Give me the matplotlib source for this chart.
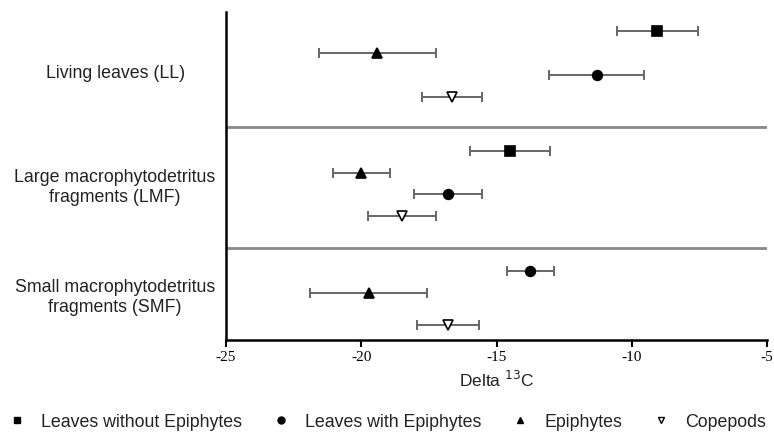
import matplotlib.pyplot as plt
from matplotlib.lines import Line2D

# Data (delta 13C mean and spread)
groups = ['Living leaves (LL)',
          'Large macrophytodetritus\nfragments (LMF)',
          'Small macrophytodetritus\nfragments (SMF)']
series = ['Leaves without Epiphytes', 'Leaves with Epiphytes', 'Epiphytes', 'Copepods']

# row slot of each series inside each group (None = no value)
ll_mean = [-9.05, -11.3, -19.4, -16.65]
ll_err = [1.48, 1.75, 2.15, 1.1]
ll_slot = [0.88, 2.88, 1.88, 3.88]

lmf_mean = [-14.5, -16.8, -20.0, -18.5]
lmf_err = [1.48, 1.25, 1.05, 1.25]
lmf_slot = [6.33, 8.3, 7.33, 9.29]

smf_mean = [None, -13.75, -19.72, -16.8]
smf_err = [None, 0.86, 2.16, 1.15]
smf_slot = [None, 11.79, 12.79, 14.24]

separators = [5.24, 10.75]
label_pos = [2.79, 8.0, 13.0]

markers = ['s', 'o', '^', 'v']
faces = ['black', 'black', 'black', 'white']
sizes = [6.5, 7, 7, 7]

plt.rcParams['font.family'] = ['Liberation Sans', 'DejaVu Sans']

fig = plt.figure(figsize=(7.74, 4.37), dpi=100)
ax = fig.add_axes([0.292, 0.222, 0.699, 0.751])

for means, errs, slots in [(ll_mean, ll_err, ll_slot),
                           (lmf_mean, lmf_err, lmf_slot),
                           (smf_mean, smf_err, smf_slot)]:
    for i in range(len(series)):
        if means[i] is None:
            continue
        ax.errorbar(means[i], slots[i], xerr=errs[i], fmt='none',
                    ecolor='#666666', elinewidth=1.4, capsize=3.5, capthick=1.4, zorder=2)
        ax.plot(means[i], slots[i], marker=markers[i], markersize=sizes[i],
                markerfacecolor=faces[i], markeredgecolor='black',
                markeredgewidth=1.2, linestyle='none', zorder=3)

for s in separators:
    ax.axhline(s, color='#888888', linewidth=2, zorder=1)

for name, y in zip(groups, label_pos):
    ax.text(-29.1, y, name, ha='center', va='center', fontsize=12.8,
            color='#222222', linespacing=1.2)

ax.set_xlim(-25, -5)
ax.set_ylim(14.92, 0)
ax.set_xticks([-25, -20, -15, -10, -5])
ax.set_xticklabels(['-25', '-20', '-15', '-10', '-5'], family='Liberation Serif', fontsize=11)
ax.set_yticks([])
ax.spines['top'].set_visible(False)
ax.spines['right'].set_visible(False)
ax.spines['left'].set_linewidth(1.8)
ax.spines['bottom'].set_linewidth(1.8)
ax.tick_params(axis='x', length=5, width=1.5, direction='out', pad=3)
ax.set_xlabel('Delta $^{13}$C', fontsize=12.5, labelpad=4, color='#222222')

handles = [Line2D([], [], marker=m, markersize=5, markerfacecolor=f,
                  markeredgecolor='black', linestyle='none') for m, f in zip(markers, faces)]
fig.legend(handles, series, loc='center', bbox_to_anchor=(0.5, 0.034), ncol=4,
           frameon=False, fontsize=12.8, handlelength=1, handletextpad=0.85,
           columnspacing=1.7, labelcolor='#222222')

fig.savefig('out.png', dpi=100)
